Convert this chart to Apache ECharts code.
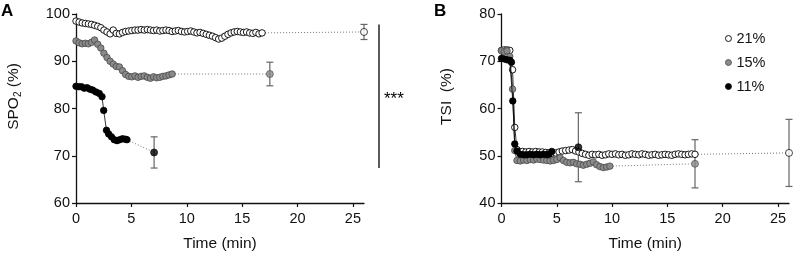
<!DOCTYPE html>
<html><head><meta charset="utf-8">
<script src="https://cdn.jsdelivr.net/npm/echarts@6/dist/echarts.min.js"></script>
<style>html,body{margin:0;padding:0;background:#fff}#c{width:793px;height:257px}</style>
</head><body><div id="c"></div>
<script>
// ---------- Panel A : SpO2 (%) ----------
const aWhiteT = [0,0.28,0.56,0.84,1.12,1.4,1.68,1.96,2.24,2.52,2.8,3.08,3.36,3.64,3.92,4.2,4.48,4.76,5.04,5.32,5.6,5.88,6.16,6.44,6.72,7.0,7.28,7.56,7.84,8.12,8.4,8.68,8.96,9.24,9.52,9.8,10.08,10.36,10.64,10.92,11.2,11.48,11.76,12.04,12.32,12.6,12.88,13.16,13.44,13.72,14.0,14.28,14.56,14.84,15.12,15.4,15.68,15.96,16.24,16.52,16.8];
const aWhiteV = [98.5,98.3,98.1,98.0,97.9,97.8,97.6,97.4,97.1,96.6,96.2,95.8,96.6,95.9,95.8,96.1,96.3,96.4,96.5,96.6,96.6,96.7,96.6,96.7,96.6,96.5,96.6,96.4,96.5,96.6,96.5,96.3,96.4,96.5,96.3,96.2,96.3,96.4,96.2,96.0,96.1,95.9,95.7,95.5,95.3,95.0,94.7,94.9,95.3,95.7,96.0,96.2,96.3,96.2,96.1,96.2,96.0,95.9,96.1,95.8,96.0];
const aGrayT = [0,0.28,0.56,0.84,1.12,1.4,1.68,1.96,2.24,2.52,2.8,3.08,3.36,3.64,3.92,4.2,4.48,4.76,5.04,5.32,5.6,5.88,6.16,6.44,6.72,7.0,7.28,7.56,7.84,8.12,8.4,8.68];
const aGrayV = [94.3,93.9,93.7,93.8,93.7,94.0,94.5,93.6,92.8,91.7,90.8,90.0,89.4,88.9,88.8,88.0,87.2,86.8,86.7,86.9,86.6,86.8,86.9,86.6,86.4,86.7,86.5,86.6,86.8,86.9,87.1,87.3];
const aBlackT = [0,0.25,0.5,0.75,1.0,1.25,1.5,1.8,2.1,2.35,2.5,2.75,2.95,3.2,3.45,3.7,3.95,4.2,4.45,4.6];
const aBlackV = [84.7,84.6,84.6,84.3,84.4,84.1,83.9,83.5,83.2,82.5,79.6,75.4,74.6,74.0,73.4,73.2,73.4,73.6,73.5,73.4];
// end points: [time, mean, error]
const aWhiteEnd = [26, 96.2, 1.6];
const aGrayEnd = [17.5, 87.3, 2.5];
const aBlackEnd = [7.05, 70.7, 3.3];

// ---------- Panel B : TSI (%) ----------
const bWhiteT = [0,0.25,0.5,0.75,1.0,1.2,1.4,1.6,1.9,2.2,2.5,2.8,3.1,3.4,3.7,4.0,4.3,4.6,4.9,5.2,5.5,5.8,6.1,6.4,6.7,7.0,7.3,7.6,7.9,8.2,8.5,8.8,9.1,9.4,9.7,10.0,10.3,10.6,10.9,11.2,11.5,11.8,12.1,12.4,12.7,13.0,13.3,13.6,13.9,14.2,14.5,14.8,15.1,15.4,15.7,16.0,16.3,16.6,16.9,17.2,17.5];
const bWhiteV = [72.3,72.4,72.4,72.3,68.2,56.0,51.3,50.9,50.9,50.8,50.9,50.8,50.9,50.8,50.8,50.7,50.6,50.5,50.6,50.8,51.0,51.1,51.2,51.3,51.0,50.8,50.5,50.3,50.1,50.3,50.2,50.3,50.1,50.2,50.4,50.3,50.4,50.2,50.3,50.1,50.2,50.4,50.3,50.2,50.4,50.3,50.1,50.2,50.3,50.1,50.2,50.3,50.2,50.1,50.3,50.4,50.3,50.2,50.3,50.4,50.3];
const bGrayT = [0,0.25,0.5,0.75,1.0,1.2,1.4,1.7,2.0,2.3,2.6,2.9,3.2,3.5,3.8,4.1,4.4,4.7,5.0,5.3,5.6,5.9,6.2,6.5,6.8,7.1,7.4,7.7,8.0,8.3,8.6,8.9,9.2,9.5,9.8];
const bGrayV = [72.2,72.0,72.2,71.0,64.1,51.1,49.0,48.9,49.1,49.0,49.2,49.1,49.3,49.2,49.1,49.0,48.9,49.0,49.2,49.6,49.0,48.6,48.5,48.6,48.3,48.2,48.0,48.2,48.4,48.7,48.1,47.7,47.5,47.6,47.8];
const bBlackT = [0,0.25,0.5,0.75,0.9,1.02,1.2,1.4,1.7,2.0,2.3,2.6,2.9,3.2,3.5,3.8,4.1,4.3,4.55];
const bBlackV = [70.6,70.5,70.3,70.2,69.8,61.6,52.5,51.0,50.3,50.2,50.2,50.3,50.2,50.3,50.2,50.3,50.2,50.3,50.9];
const bWhiteEnd = [26, 50.6, 7.1];
const bGrayEnd = [17.5, 48.3, 5.1];
const bBlackEnd = [6.95, 51.8, 7.3];

const groupNames = ['21%', '15%', '11%'];
const xTicks = [0, 5, 10, 15, 20, 25];
const aYTicks = [60, 70, 80, 90, 100];
const bYTicks = [40, 50, 60, 70, 80];

const FONT = 'Liberation Sans, Arial, Helvetica, sans-serif';
const styles = {
  '21%': {color: '#ffffff', borderColor: '#000000', borderWidth: 0.9},
  '15%': {color: '#8a8a8a', borderColor: '#4a4a4a', borderWidth: 0.8},
  '11%': {color: '#000000', borderColor: '#000000', borderWidth: 0.8}
};

function pairs(T, V) { return T.map((t, i) => [t, V[i]]); }

function dense(gi, name, T, V, z) {
  return {
    type: 'line', name: name, xAxisIndex: gi, yAxisIndex: gi,
    data: pairs(T, V), symbol: 'circle', symbolSize: 6.5, showSymbol: true,
    showAllSymbol: true,
    lineStyle: {color: '#000', width: 0.8}, itemStyle: styles[name],
    emphasis: {disabled: true}, z: z, animation: false
  };
}
function dotted(gi, name, T, V, end) {
  return {
    type: 'line', name: name + ' trend', xAxisIndex: gi, yAxisIndex: gi,
    data: [[T[T.length - 1], V[V.length - 1]], [end[0], end[1]]],
    symbol: 'none', lineStyle: {color: '#777', width: 1, type: [1, 2]},
    z: 1, animation: false, silent: true
  };
}
function errBar(gi, name, end) {
  return {
    type: 'custom', name: name + ' err', xAxisIndex: gi, yAxisIndex: gi,
    data: [end], encode: {x: 0, y: 1}, z: 2, animation: false, silent: true,
    renderItem: function (params, api) {
      const x = api.value(0), m = api.value(1), e = api.value(2);
      const t = api.coord([x, m + e]), b = api.coord([x, m - e]);
      const w = 3.5, st = {stroke: '#666', lineWidth: 1.2};
      return {type: 'group', children: [
        {type: 'line', shape: {x1: t[0], y1: t[1], x2: b[0], y2: b[1]}, style: st},
        {type: 'line', shape: {x1: t[0] - w, y1: t[1], x2: t[0] + w, y2: t[1]}, style: st},
        {type: 'line', shape: {x1: b[0] - w, y1: b[1], x2: b[0] + w, y2: b[1]}, style: st}
      ]};
    }
  };
}
function endPoint(gi, name, end, z) {
  return {
    type: 'scatter', name: name + ' end', xAxisIndex: gi, yAxisIndex: gi,
    data: [[end[0], end[1]]], symbol: 'circle', symbolSize: 7,
    itemStyle: styles[name], z: z, animation: false, silent: true
  };
}
function group(gi, name, T, V, end, z) {
  return [dotted(gi, name, T, V, end), errBar(gi, name, end), dense(gi, name, T, V, z), endPoint(gi, name, end, z)];
}

const axisCommon = {
  axisLine: {show: true, lineStyle: {color: '#111', width: 1.3}},
  axisTick: {show: true, length: 4, lineStyle: {color: '#111', width: 1.2}},
  splitLine: {show: false},
  nameTextStyle: {fontFamily: FONT, fontSize: 15.5, color: '#111'}
};
function xAx(gi) {
  return Object.assign({}, axisCommon, {
    type: 'value', gridIndex: gi, min: 0, max: 26,
    axisTick: Object.assign({}, axisCommon.axisTick, {customValues: xTicks}),
    axisLabel: {customValues: xTicks, fontFamily: FONT, fontSize: 14.5, color: '#111', margin: 8},
    name: 'Time (min)', nameLocation: 'middle', nameGap: 33
  });
}
function yAx(gi, ticks, name, gap, rich) {
  return Object.assign({}, axisCommon, {
    type: 'value', gridIndex: gi, min: ticks[0], max: ticks[ticks.length - 1], interval: 10,
    axisLabel: {fontFamily: FONT, fontSize: 14.5, color: '#111', margin: 6},
    name: name, nameLocation: 'middle', nameRotate: 90, nameGap: gap,
    nameTextStyle: {fontFamily: FONT, fontSize: 15.5, color: '#111', padding: [0, 0, 0, 24], rich: rich}
  });
}

const chart = echarts.init(document.getElementById('c'), null, {renderer: 'canvas'});
chart.setOption({
  animation: false,
  backgroundColor: '#fff',
  grid: [
    {left: 76, top: 14, width: 288, height: 190},
    {left: 501.5, top: 14, width: 287.5, height: 190}
  ],
  xAxis: [xAx(0), xAx(1)],
  yAxis: [
    yAx(0, aYTicks, '{a|SPO}{s|2}{a| (%)}', 53, {
      a: {fontFamily: FONT, fontSize: 15.5, color: '#111'},
      s: {fontFamily: FONT, fontSize: 10, color: '#111', padding: [8, 0, 0, 0]}
    }),
    yAx(1, bYTicks, 'TSI  (%)', 47)
  ],
  legend: {
    orient: 'vertical', left: 720, top: 26, itemWidth: 6, itemHeight: 6, itemGap: 9,
    icon: 'circle', selectedMode: false,
    textStyle: {fontFamily: FONT, fontSize: 14.5, color: '#111'},
    data: groupNames.map(n => ({name: n, icon: 'circle', itemStyle: styles[n]}))
  },
  series: [].concat(
    group(0, '21%', aWhiteT, aWhiteV, aWhiteEnd, 3),
    group(0, '15%', aGrayT, aGrayV, aGrayEnd, 4),
    group(0, '11%', aBlackT, aBlackV, aBlackEnd, 5),
    group(1, '21%', bWhiteT, bWhiteV, bWhiteEnd, 3),
    group(1, '15%', bGrayT, bGrayV, bGrayEnd, 4),
    group(1, '11%', bBlackT, bBlackV, bBlackEnd, 5)
  )
});

// significance bracket spanning the 21% and 11% end points of panel A
const topPx = chart.convertToPixel({gridIndex: 0}, [26, aWhiteEnd[1] + aWhiteEnd[2]]);
const botPx = chart.convertToPixel({gridIndex: 0}, [aBlackEnd[0], aBlackEnd[1] - aBlackEnd[2]]);
const bx = 76 + 288 + 15;
chart.setOption({
  graphic: [
    {type: 'text', left: 1, top: 3, style: {text: 'A', font: 'bold 17px ' + FONT, fill: '#000'}},
    {type: 'text', left: 434, top: 3, style: {text: 'B', font: 'bold 17px ' + FONT, fill: '#000'}},
    {type: 'line', shape: {x1: bx, y1: topPx[1], x2: bx, y2: botPx[1]}, style: {stroke: '#000', lineWidth: 1.3}},
    {type: 'text', x: bx + 5, y: (topPx[1] + botPx[1]) / 2 + 3,
     style: {text: '***', font: '17px ' + FONT, fill: '#000', verticalAlign: 'middle', align: 'left'}}
  ]
});
</script>
</body></html>
